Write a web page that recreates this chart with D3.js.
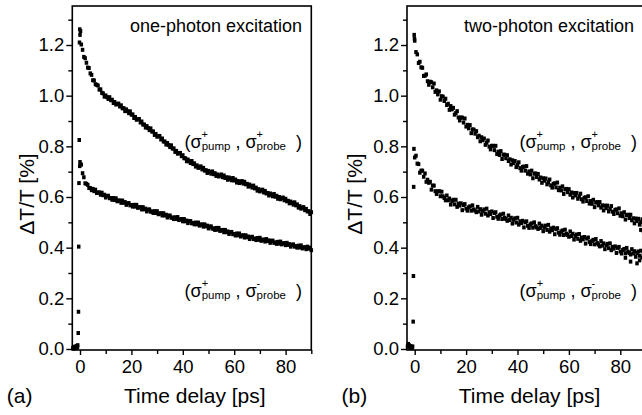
<!DOCTYPE html>
<html>
<head>
<meta charset="utf-8">
<script src="https://cdn.jsdelivr.net/npm/d3@7"></script>
<style>
  body { margin: 0; background: #fff; }
  svg text { font-family: "Liberation Sans", Arial, Helvetica, sans-serif; fill: #000; }
</style>
</head>
<body>
<script>
var width = 642, height = 415;

// delay grid of the scans, ps (first sample and spacing)
var delayStart = 0, delayStep = 0.5;

// panel (a): one-photon excitation, sampled every 0.5 ps from 0 to 90 ps
var onePhotonSame = [
  1.240,1.202,1.181,1.153,1.148,1.130,1.111,1.109,1.088,1.082,1.061,1.060,1.045,1.043,1.040,1.024,1.025,1.011,1.009,0.996,
  1.001,0.994,0.987,0.994,0.982,0.984,0.971,0.975,0.965,0.967,0.969,0.957,0.962,0.950,0.951,0.939,0.946,0.939,0.931,0.938,
  0.925,0.926,0.912,0.916,0.905,0.907,0.908,0.894,0.898,0.886,0.886,0.874,0.880,0.872,0.864,0.871,0.858,0.859,0.845,0.849,
  0.838,0.840,0.841,0.827,0.831,0.819,0.819,0.807,0.813,0.805,0.797,0.804,0.791,0.792,0.778,0.782,0.771,0.773,0.774,0.761,
  0.765,0.753,0.753,0.741,0.748,0.741,0.734,0.742,0.730,0.733,0.720,0.725,0.715,0.718,0.721,0.709,0.715,0.704,0.706,0.695,
  0.703,0.698,0.692,0.701,0.690,0.694,0.683,0.689,0.681,0.685,0.689,0.678,0.685,0.675,0.678,0.668,0.677,0.672,0.666,0.675,
  0.665,0.669,0.657,0.663,0.655,0.659,0.663,0.653,0.660,0.650,0.652,0.641,0.649,0.643,0.637,0.645,0.634,0.637,0.625,0.631,
  0.622,0.626,0.629,0.618,0.624,0.614,0.616,0.606,0.614,0.609,0.603,0.612,0.601,0.605,0.593,0.600,0.591,0.595,0.598,0.587,
  0.593,0.583,0.585,0.575,0.582,0.577,0.570,0.579,0.567,0.571,0.558,0.564,0.554,0.558,0.560,0.548,0.553,0.543,0.544,0.533,
  0.540
];
var onePhotonOpposite = [
  0.738,0.728,0.694,0.678,0.654,0.652,0.648,0.636,0.635,0.627,0.632,0.623,0.629,0.616,0.618,0.618,0.609,0.617,0.607,0.609,
  0.598,0.604,0.605,0.595,0.596,0.589,0.596,0.588,0.595,0.583,0.586,0.586,0.577,0.586,0.577,0.580,0.569,0.575,0.576,0.567,
  0.568,0.562,0.569,0.562,0.569,0.557,0.560,0.560,0.551,0.560,0.551,0.554,0.543,0.550,0.551,0.542,0.543,0.537,0.544,0.537,
  0.544,0.532,0.535,0.536,0.527,0.536,0.527,0.530,0.519,0.526,0.527,0.518,0.519,0.513,0.520,0.513,0.521,0.509,0.512,0.513,
  0.504,0.513,0.504,0.507,0.497,0.504,0.505,0.496,0.498,0.492,0.499,0.492,0.499,0.487,0.491,0.492,0.483,0.492,0.484,0.487,
  0.476,0.483,0.484,0.475,0.476,0.470,0.478,0.471,0.478,0.466,0.469,0.470,0.461,0.470,0.461,0.464,0.454,0.461,0.462,0.453,
  0.454,0.448,0.456,0.449,0.456,0.444,0.448,0.449,0.440,0.449,0.441,0.444,0.434,0.441,0.443,0.434,0.436,0.430,0.438,0.431,
  0.439,0.427,0.431,0.432,0.424,0.434,0.426,0.429,0.419,0.426,0.428,0.419,0.421,0.415,0.423,0.416,0.424,0.413,0.417,0.418,
  0.410,0.419,0.411,0.414,0.404,0.411,0.413,0.404,0.406,0.400,0.408,0.401,0.409,0.397,0.401,0.402,0.394,0.404,0.396,0.400,
  0.390
];
// points before time zero and on the rising edge, [delay, value]
var onePhotonEdge = [
  [-2.8,0.003],[-2.5,0.008],[-2.2,0.002],[-2.0,0.006],[-1.8,0.010],[-1.5,0.004],[-1.2,0.012],[-1.0,0.008],[-0.9,0.015],
  [-0.7,0.063],[-0.6,0.147],[-0.5,0.404],[-0.4,0.655],[-0.3,0.825],[-0.2,1.210],[-0.1,1.262],[0.2,1.255],[-0.1,0.722]
];

// panel (b): two-photon excitation
var twoPhotonSame = [
  1.217,1.172,1.163,1.129,1.134,1.112,1.110,1.078,1.079,1.084,1.057,1.043,1.055,1.053,1.033,1.048,1.015,1.021,1.005,1.017,
  0.984,0.998,0.996,0.979,0.988,0.963,0.968,0.944,0.959,0.946,0.952,0.925,0.931,0.939,0.914,0.902,0.914,0.913,0.894,0.910,
  0.878,0.885,0.871,0.884,0.852,0.867,0.866,0.850,0.860,0.836,0.842,0.820,0.836,0.824,0.831,0.806,0.814,0.823,0.799,0.788,
  0.802,0.802,0.785,0.802,0.770,0.779,0.766,0.781,0.750,0.767,0.767,0.753,0.765,0.742,0.749,0.728,0.745,0.734,0.742,0.718,
  0.727,0.737,0.714,0.704,0.719,0.720,0.704,0.722,0.692,0.701,0.689,0.704,0.674,0.692,0.693,0.679,0.691,0.669,0.677,0.656,
  0.674,0.664,0.673,0.650,0.659,0.669,0.646,0.637,0.652,0.654,0.638,0.657,0.627,0.637,0.626,0.642,0.612,0.630,0.632,0.619,
  0.631,0.609,0.618,0.598,0.616,0.606,0.616,0.593,0.602,0.613,0.591,0.582,0.597,0.599,0.584,0.603,0.574,0.584,0.573,0.589,
  0.560,0.578,0.580,0.567,0.580,0.558,0.567,0.547,0.566,0.556,0.566,0.543,0.553,0.564,0.542,0.533,0.549,0.551,0.536,0.555,
  0.526,0.536,0.524,0.540,0.511,0.529,0.530,0.517,0.530,0.508,0.516,0.496,0.515,0.505,0.514,0.491,0.501,0.512,0.489,0.480,
  0.495
];
var twoPhotonOpposite = [
  0.756,0.763,0.732,0.730,0.696,0.704,0.704,0.680,0.693,0.660,0.668,0.656,0.660,0.629,0.645,0.645,0.623,0.612,0.622,0.623,
  0.603,0.621,0.603,0.596,0.587,0.606,0.587,0.594,0.570,0.584,0.589,0.571,0.589,0.561,0.574,0.566,0.575,0.548,0.568,0.572,
  0.554,0.546,0.559,0.563,0.546,0.567,0.551,0.546,0.540,0.561,0.543,0.552,0.530,0.545,0.551,0.534,0.554,0.527,0.540,0.533,
  0.543,0.517,0.537,0.540,0.522,0.514,0.527,0.531,0.513,0.534,0.518,0.513,0.506,0.527,0.509,0.518,0.495,0.510,0.516,0.499,
  0.518,0.491,0.504,0.497,0.506,0.480,0.500,0.504,0.486,0.478,0.492,0.496,0.479,0.500,0.485,0.480,0.474,0.495,0.478,0.487,
  0.465,0.480,0.487,0.470,0.490,0.463,0.476,0.469,0.479,0.453,0.473,0.477,0.459,0.451,0.464,0.468,0.450,0.471,0.455,0.450,
  0.443,0.464,0.446,0.455,0.432,0.446,0.452,0.435,0.454,0.427,0.440,0.433,0.442,0.416,0.436,0.440,0.422,0.414,0.427,0.431,
  0.413,0.434,0.418,0.412,0.405,0.426,0.408,0.417,0.394,0.409,0.415,0.398,0.417,0.390,0.403,0.396,0.405,0.379,0.399,0.403,
  0.385,0.377,0.391,0.395,0.378,0.399,0.384,0.379,0.373,0.394,0.377,0.386,0.364,0.379,0.385,0.368,0.388,0.361,0.374,0.367,
  0.377
];
var twoPhotonEdge = [
  [-2.8,0.010],[-2.5,0.020],[-2.2,0.015],[-1.9,0.005],[-1.6,0.012],[-1.3,0.008],[-1.0,0.004],[-0.8,0.010],
  [-0.6,0.108],[-0.5,0.288],[-0.4,0.640],[-0.3,0.790],[-0.2,1.240],[-0.1,1.225],
  [82.0,0.360],[84.0,0.345],[86.5,0.338],[87.5,0.350],[88.0,0.470],[89.0,0.465]
];

var xTicks = [0, 20, 40, 60, 80];
var xMinor = [10, 30, 50, 70, 90];
var yTicks = [0, 0.2, 0.4, 0.6, 0.8, 1.0, 1.2];
var yMinor = [0.1, 0.3, 0.5, 0.7, 0.9, 1.1, 1.3];

var panels = [
  {left: 72.3, title: "one-photon excitation", letter: "(a)", same: onePhotonSame, opposite: onePhotonOpposite, edge: onePhotonEdge,
   yLabelX: 34, labelRight: 302, titleRight: 302},
  {left: 407, title: "two-photon excitation", letter: "(b)", same: twoPhotonSame, opposite: twoPhotonOpposite, edge: twoPhotonEdge,
   yLabelX: 362, labelRight: 637, titleRight: 634}
];

var plotTop = 6, plotW = 239, plotH = 344;
var fontStack = "Liberation Sans, Arial, Helvetica, sans-serif";

var svg = d3.select("body").append("svg")
    .attr("width", width)
    .attr("height", height);

var x = d3.scaleLinear().domain([-3, 90]).range([0, plotW]);
var y = d3.scaleLinear().domain([-0.004, 1.354]).range([plotH, 0]);

function toPoints(values) {
  return values.map(function(v, i) { return [delayStart + i * delayStep, v]; });
}

// (σ+pump , σ±probe) label built from tspans
function polLabel(g, xRight, baseline, probeSign) {
  var t = g.append("text")
      .attr("x", xRight)
      .attr("y", baseline)
      .attr("text-anchor", "end")
      .attr("font-size", 18)
      .style("white-space", "pre");
  t.append("tspan").text("(\u03c3");
  t.append("tspan").attr("font-size", 11).attr("dy", -10).text("+");
  t.append("tspan").attr("font-size", 11.5).attr("dx", -6.4).attr("dy", 12).text("pump");
  t.append("tspan").attr("dy", -2).text(" , \u03c3");
  t.append("tspan").attr("font-size", 11).attr("dy", -10).text(probeSign);
  t.append("tspan").attr("font-size", 11.5).attr("dx", probeSign === "+" ? -6.4 : -3.7).attr("dy", 12).text("probe");
  t.append("tspan").attr("dy", -2).text("  )");
}

panels.forEach(function(p) {
  var g = svg.append("g")
      .attr("transform", "translate(" + p.left + "," + plotTop + ")");

  // data points
  var pts = toPoints(p.same).concat(toPoints(p.opposite), p.edge);
  g.append("g").selectAll("rect")
    .data(pts)
    .enter().append("rect")
      .attr("x", function(d) { return x(d[0]) - 1.75; })
      .attr("y", function(d) { return y(d[1]) - 2; })
      .attr("width", 3.5)
      .attr("height", 4)
      .attr("fill", "#000");

  // axes
  g.append("g")
      .attr("transform", "translate(0," + plotH + ")")
      .call(d3.axisBottom(x).tickValues(xTicks).tickSize(5).tickPadding(5).tickFormat(d3.format("d")))
      .attr("font-size", 18.5)
      .attr("font-family", fontStack);
  g.append("g")
      .attr("transform", "translate(0," + plotH + ")")
      .call(d3.axisBottom(x).tickValues(xMinor).tickSize(4).tickFormat(""));
  g.append("g")
      .call(d3.axisLeft(y).tickValues(yTicks).tickSize(6).tickPadding(2).tickFormat(d3.format(".1f")))
      .attr("font-size", 18.5)
      .attr("font-family", fontStack);
  g.append("g")
      .call(d3.axisLeft(y).tickValues(yMinor).tickSize(4).tickFormat(""));

  g.selectAll(".domain").remove();
  g.selectAll(".tick line").attr("stroke", "#000").attr("stroke-width", 1.4);

  // frame
  g.append("rect")
      .attr("width", plotW)
      .attr("height", plotH)
      .attr("fill", "none")
      .attr("stroke", "#000")
      .attr("stroke-width", 1.6);

  // texts
  svg.append("text")
      .attr("x", p.titleRight)
      .attr("y", 32)
      .attr("text-anchor", "end")
      .attr("font-size", 18)
      .text(p.title);

  polLabel(svg, p.labelRight, 148, "+");
  polLabel(svg, p.labelRight, 297, "-");

  svg.append("text")
      .attr("transform", "translate(" + p.yLabelX + ",194) rotate(-90)")
      .attr("text-anchor", "middle")
      .attr("font-size", 21)
      .text("\u0394T/T [%]");

  svg.append("text")
      .attr("x", p.left + plotW / 2 + 3)
      .attr("y", 403)
      .attr("text-anchor", "middle")
      .attr("font-size", 21)
      .text("Time delay [ps]");

  svg.append("text")
      .attr("x", p.left - 65.5)
      .attr("y", 403)
      .attr("font-size", 21)
      .text(p.letter);
});
</script>
</body>
</html>
